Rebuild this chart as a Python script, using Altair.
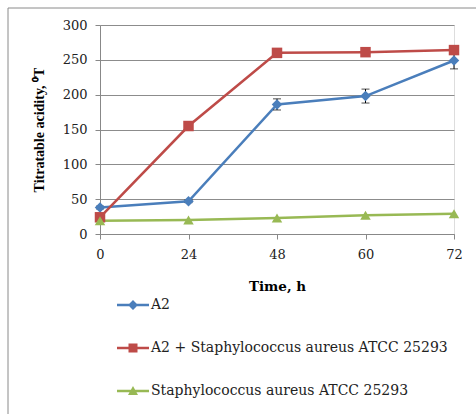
import altair as alt
import pandas as pd

times = ["0", "24", "48", "60", "72"]
series_names = ["A2", "A2 + Staphylococcus aureus ATCC 25293", "Staphylococcus aureus ATCC 25293"]
a2 = [38, 47, 186, 198, 249]
a2_err = [2, 2, 8, 10, 12]
a2_staph = [24, 155, 260, 261, 264]
a2_staph_err = [1, 1, 3, 2, 2]
staph = [19, 20, 23, 27, 29]
staph_err = [0, 0, 0, 0, 0]
y_ticks = [0, 50, 100, 150, 200, 250, 300]

colors = ["#4a7ebb", "#be4b48", "#98b954"]
shapes = ["diamond", "square", "triangle-up"]
legend_paths = [
    "M-3.2,-0.24H3.2V0.24H-3.2Z M0,-1L1,0L0,1L-1,0Z",
    "M-3.2,-0.24H3.2V0.24H-3.2Z M-0.9,-0.9H0.9V0.9H-0.9Z",
    "M-3.2,-0.24H3.2V0.24H-3.2Z M0,-1L1,0.8H-1Z",
]

rows = []
for name, vals, errs in zip(series_names, [a2, a2_staph, staph], [a2_err, a2_staph_err, staph_err]):
    for t, v, e in zip(times, vals, errs):
        rows.append({"time": t, "series": name, "value": v, "lo": v - e, "hi": v + e, "err": e})
df = pd.DataFrame(rows)
err_df = df[df["err"] > 0]

HFONT = "DejaVu Serif"
VFONT = "Liberation Serif"

x_axis = alt.Axis(title="Time, h", labelAngle=0, grid=False, tickSize=5,
                  labelPadding=9, titlePadding=18, domainColor="#888888",
                  tickColor="#888888", labelColor="#222222",
                  labelFontSize=13, titleFontSize=13.5, titleFontWeight="bold",
                  labelFont=HFONT, titleFont=HFONT)
y_axis = alt.Axis(title="Titratable acidity, ⁰T", values=y_ticks, tickCount=7, labelOverlap=False,
                  grid=True, gridColor="#8c8c8c", tickSize=5, labelPadding=8,
                  titlePadding=16, domainColor="#888888", tickColor="#888888",
                  labelColor="#222222", labelFontSize=13, titleFontSize=14,
                  titleFontWeight="bold", labelFont=HFONT, titleFont=VFONT)
x_scale = alt.Scale(type="point", padding=0)
y_scale = alt.Scale(domain=[0, 300])


def xe():
    return alt.X("time:O", sort=times, scale=x_scale, axis=x_axis)


def ye(field):
    return alt.Y(field + ":Q", scale=y_scale, axis=y_axis, title="Titratable acidity, ⁰T")


color_nol = alt.Color("series:N", scale=alt.Scale(domain=series_names, range=colors), legend=None)

base = alt.Chart(df)

lines = base.mark_line(strokeWidth=2.5).encode(x=xe(), y=ye("value"), color=color_nol)

points = base.mark_point(filled=True, size=110, opacity=1).encode(
    x=xe(), y=ye("value"), color=color_nol,
    shape=alt.Shape("series:N", scale=alt.Scale(domain=series_names, range=shapes), legend=None))

rules = alt.Chart(err_df).mark_rule(color="black", strokeWidth=1).encode(
    x=xe(), y=ye("lo"), y2="hi:Q")
caps_lo = alt.Chart(err_df).mark_tick(color="black", size=8, thickness=1).encode(
    x=xe(), y=ye("lo"))
caps_hi = alt.Chart(err_df).mark_tick(color="black", size=8, thickness=1).encode(
    x=xe(), y=ye("hi"))

legend_layer = base.transform_filter("false").mark_point(filled=True, size=100, opacity=1).encode(
    x=xe(), y=ye("value"),
    color=alt.Color("series:N", scale=alt.Scale(domain=series_names, range=colors),
                    legend=alt.Legend(title=None, orient="none", legendX=26, legendY=273,
                                      direction="vertical", symbolOpacity=1, symbolSize=100,
                                      labelOffset=11, rowPadding=27, labelFont=HFONT,
                                      labelFontSize=14, labelColor="#222222",
                                      labelLimit=400)),
    shape=alt.Shape("series:N", scale=alt.Scale(domain=series_names, range=legend_paths)))

border = alt.Chart(pd.DataFrame({"a": [0]})).mark_rect(
    fill=None, stroke="#8a8a8a", strokeWidth=1).encode(
    x=alt.value(-92), x2=alt.value(420), y=alt.value(-17), y2=alt.value(420))

chart = alt.layer(border, lines, rules, caps_lo, caps_hi, points, legend_layer).resolve_scale(
    color="independent", shape="independent"
).properties(
    width=354, height=209,
    autosize=alt.AutoSizeParams(type="none"),
    padding={"left": 100, "top": 25, "right": 22, "bottom": 180},
).configure_view(strokeWidth=0).configure(background="white")

chart.save("out.html", embed_options={"renderer": "svg", "actions": False})
